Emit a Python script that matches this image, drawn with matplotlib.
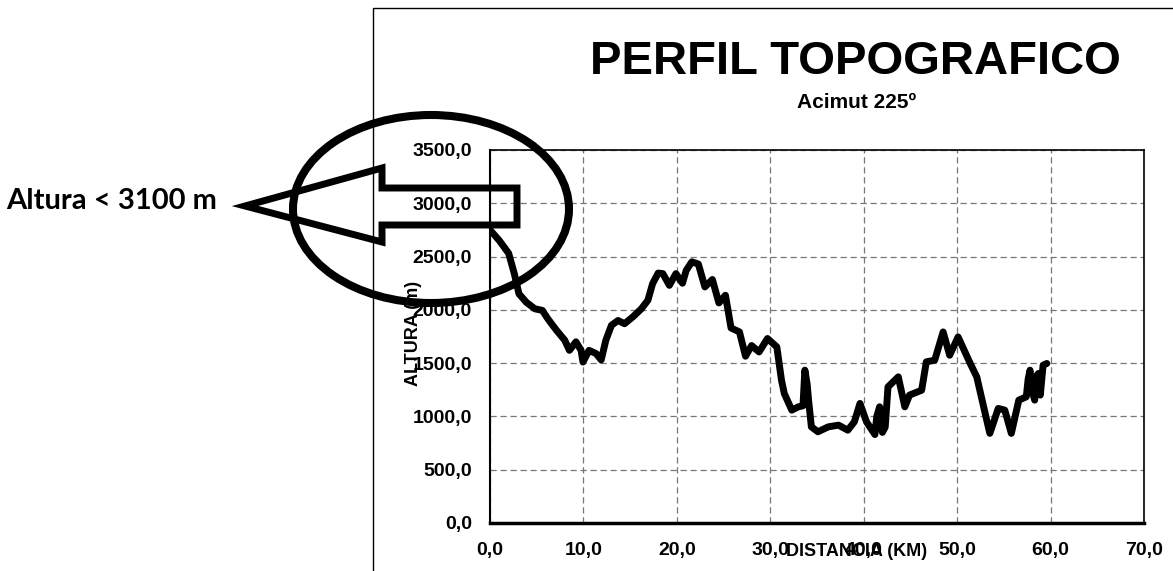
import numpy as np
import matplotlib
matplotlib.use('Agg')
import matplotlib.pyplot as plt
from matplotlib.patches import Ellipse, Polygon
from matplotlib.lines import Line2D

# DATA

dist_km = [0.0, 1.0, 2.0, 2.6, 3.1, 3.9, 4.8, 5.6, 6.2, 7.1, 8.0, 8.5, 9.2, 9.75, 9.95,
           10.6, 11.35, 11.9, 12.4, 13.0, 13.7, 14.4, 15.3, 16.2, 16.9, 17.4, 18.0, 18.5,
           19.2, 19.9, 20.6, 21.0, 21.6, 22.3, 23.0, 23.8, 24.5, 25.2, 25.8, 26.7, 27.35,
           28.0, 28.8, 29.7, 30.7, 31.2, 31.5, 32.3, 33.0, 33.5, 33.7, 33.95, 34.1, 34.4,
           35.1, 36.2, 37.3, 38.3, 39.0, 39.6, 40.3, 41.0, 41.2, 41.4, 41.7, 42.0, 42.3,
           42.6, 43.7, 44.4, 44.9, 46.2, 46.7, 47.6, 48.5, 49.2, 50.1, 51.4, 52.1, 53.0,
           53.5, 54.4, 55.1, 55.8, 56.6, 57.4, 57.6, 57.8, 58.0, 58.3, 58.5, 58.7, 58.9,
           59.2, 59.6]
altura_m = [2750, 2650, 2530, 2340, 2150, 2070, 2010, 1995, 1915, 1810, 1715, 1620, 1700, 1620, 1510,
            1620, 1590, 1530, 1715, 1855, 1900, 1870, 1935, 2010, 2090, 2245, 2345, 2340,
            2230, 2340, 2250, 2370, 2450, 2430, 2215, 2285, 2065, 2137, 1830, 1793, 1565,
            1665, 1605, 1731, 1652, 1340, 1215, 1059, 1090, 1100, 1434, 1300, 1150, 902,
            856, 902, 918, 871, 950, 1122, 949, 856, 830, 1000, 1090, 850, 900,
            1277, 1371, 1090, 1200, 1246, 1512, 1528, 1793, 1574, 1746, 1497, 1371, 1028,
            841, 1075, 1059, 841, 1153, 1184, 1350, 1434, 1250, 1153, 1380, 1403, 1200,
            1481, 1497]

x_ticks = [0, 10, 20, 30, 40, 50, 60, 70]
y_ticks = [0, 500, 1000, 1500, 2000, 2500, 3000, 3500]

W, H = 1173, 571

def fx(px):
    return px / W

def fy(py):
    return 1 - py / H

plt.rcParams['font.family'] = 'Liberation Sans'

fig = plt.figure(figsize=(W / 100, H / 100), dpi=100)
ax = fig.add_axes([fx(490), fy(523), fx(1144) - fx(490), fy(150) - fy(523)])

ax.plot(dist_km, altura_m, color='black', lw=5, solid_joinstyle='round', solid_capstyle='round', zorder=3)

ax.set_xlim(0, 70)
ax.set_ylim(0, 3500)
ax.set_xticks(x_ticks)
ax.set_yticks(y_ticks)
ax.set_xticklabels([('%.1f' % v).replace('.', ',') for v in x_ticks], fontweight='bold', fontsize=14)
ax.set_yticklabels([('%.1f' % v).replace('.', ',') for v in y_ticks], fontweight='bold', fontsize=14)
ax.tick_params(length=0, pad=13)
ax.tick_params(axis='x', pad=14)
ax.grid(True, color='#777777', lw=0.9, ls=(0, (5, 3)))
for s in ax.spines.values():
    s.set_color('black')
    s.set_linewidth(1.2)
ax.spines['bottom'].set_linewidth(2.5)
ax.spines['left'].set_linewidth(1.5)

# title
fig.text(fx(855), fy(62), 'PERFIL TOPOGRAFICO', ha='center', va='center', fontsize=34, fontweight='bold')
fig.text(fx(857), fy(102), 'Acimut 225º', ha='center', va='center', fontsize=15, fontweight='bold')

# axis titles placed as in the scan (overlapping tick labels)
fig.text(fx(413), fy(333), 'ALTURA (m)', rotation=90, ha='center', va='center', fontsize=13, fontweight='bold')
fig.text(fx(857), fy(551), 'DISTANCIA (KM)', ha='center', va='center', fontsize=13, fontweight='bold')

# outer chart frame
fig.add_artist(Line2D([fx(373), fx(373), fx(1175)], [fy(575), fy(8), fy(8)],
                      transform=fig.transFigure, color='black', lw=1))

# annotation: ellipse + arrow + text
fig.add_artist(Ellipse((fx(431), fy(209)), 276 / W, 188 / H, transform=fig.transFigure,
                       fill=False, ec='black', lw=5.8, zorder=5))
arrow_px = [(245, 206), (382, 168), (382, 188), (517, 188), (517, 225), (382, 225), (382, 242)]
fig.add_artist(Polygon([(fx(a), fy(b)) for a, b in arrow_px], closed=True, transform=fig.transFigure,
                       fill=False, ec='black', lw=5, joinstyle='miter', zorder=5))
fig.text(fx(6), fy(201), 'Altura < 3100 m', ha='left', va='center', fontsize=21,
         fontweight='bold', family='Lato')

fig.savefig('out.png', dpi=100)
